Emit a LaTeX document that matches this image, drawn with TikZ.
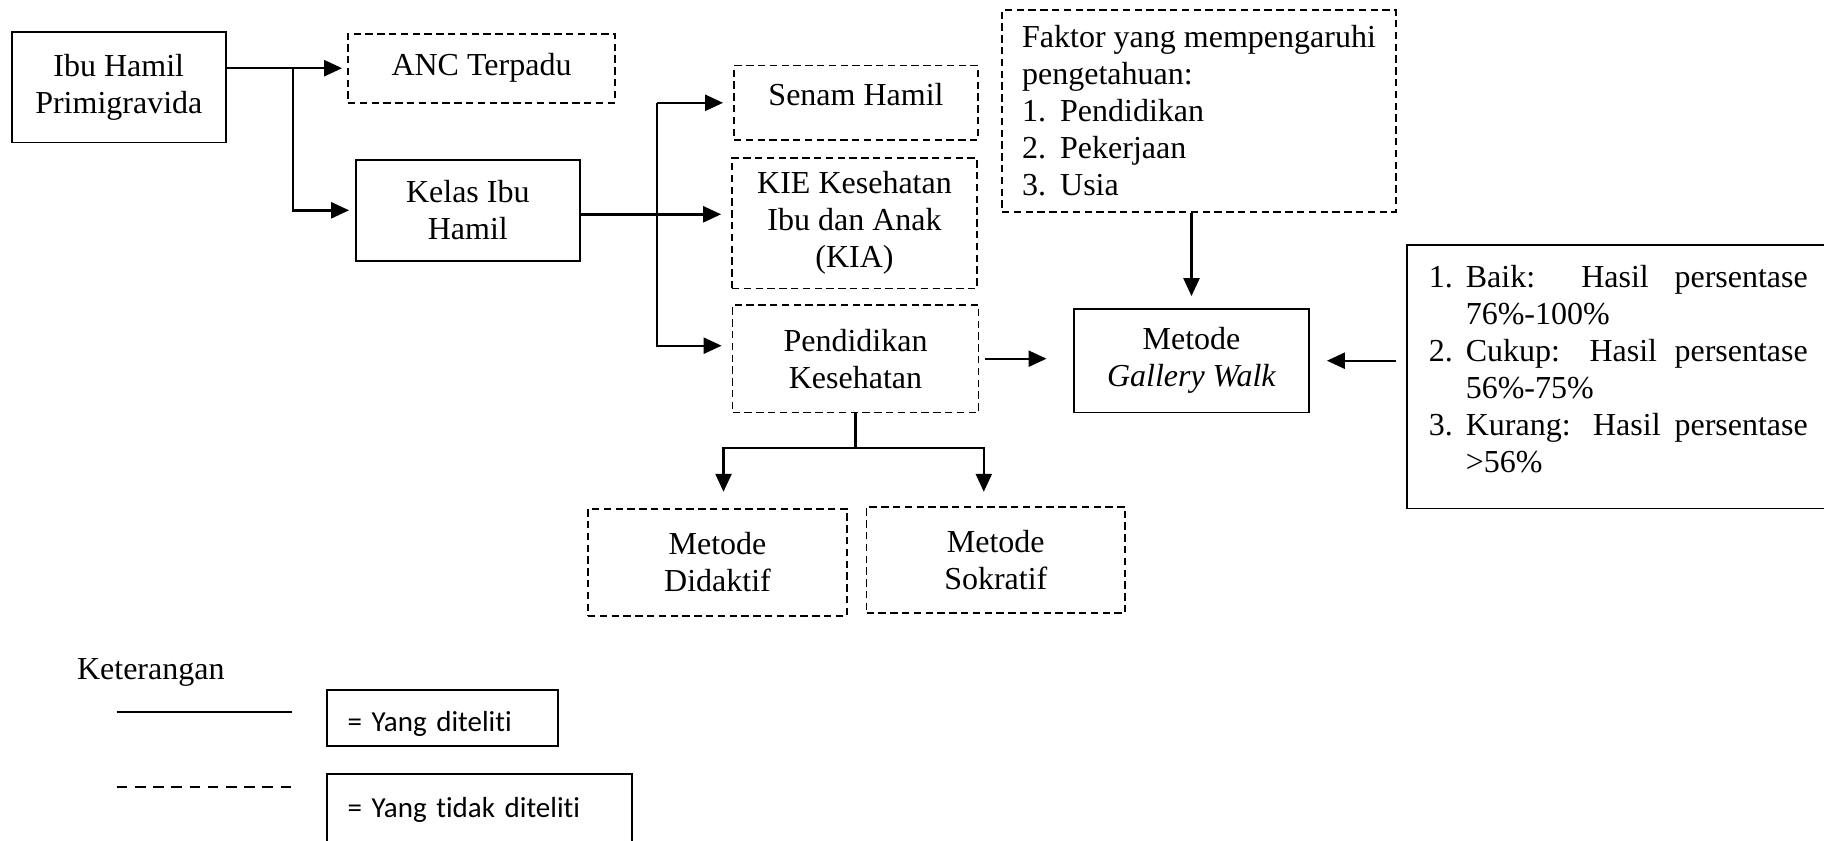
\documentclass[tikz,border=0pt]{standalone}
\usepackage{fontspec}
\setmainfont{Liberation Serif}
\newfontfamily\calibri{Carlito}[Ligatures=NoCommon]
\usetikzlibrary{positioning,calc,arrows.meta}

\begin{document}
\begin{tikzpicture}[x=0.5pt,y=-0.5pt,
		font=\fontsize{16}{18.5}\selectfont,
		box/.style={draw,line width=0.9pt,align=center,inner sep=0pt},
		dbox/.style={box,dash pattern=on 3.7pt off 2.2pt},
		arr/.style={line width=1.2pt,-{Triangle[length=9pt,width=8pt]}},
		legbox/.style={draw,line width=0.9pt,anchor=north west,align=left,inner xsep=10.35pt,inner ysep=0pt,font=\calibri\fontsize{14.5}{17}\selectfont}]
		\useasboundingbox (0,0) rectangle (1824,840);
		% boxes
		\node[box,minimum width=107.2pt,minimum height=55.3pt] (ibu) at (118.8,87.2) {Ibu Hamil\\Primigravida};
		\node[dbox,minimum width=133.5pt,minimum height=34.5pt] (anc) at (481.5,68.2) {ANC Terpadu};
		\node[box,minimum width=111.8pt,minimum height=50.7pt] (kelas) at (467.8,210.3) {Kelas Ibu\\Hamil};
		\node[dbox,minimum width=122pt,minimum height=37.2pt,text depth=8pt] (senam) at (856,102.8) {Senam Hamil};
		\node[dbox,minimum width=122.5pt,minimum height=65.2pt] (kie) at (854.5,223.2) {KIE Kesehatan\\Ibu dan Anak\\(KIA)};
		\node[dbox,minimum width=123pt,minimum height=53.7pt] (pend) at (855.5,358.7) {Pendidikan\\Kesehatan};
		\node[dbox,minimum width=197pt,minimum height=100.8pt,align=left] (faktor) at (1199,110.8)
			{Faktor yang mempengaruhi\\pengetahuan:\\\makebox[19pt][l]{1.}Pendidikan\\\makebox[19pt][l]{2.}Pekerjaan\\\makebox[19pt][l]{3.}Usia};
		\node[box,minimum width=117.5pt,minimum height=51.7pt] (gw) at (1191.5,360.7) {Metode\\\textit{Gallery Walk}};
		\node[box,minimum height=131.7pt,text width=189.5pt,align=justify,inner xsep=11.1pt] (hasil) at (1618.3,376.7)
			{\parindent=0pt
			\hangindent=18.5pt\hangafter=1 \makebox[18.5pt][l]{1.}Baik: Hasil persentase\linebreak 76\%-100\%\par
			\hangindent=18.5pt\hangafter=1 \makebox[18.5pt][l]{2.}Cukup: Hasil persentase\linebreak 56\%-75\%\par
			\hangindent=18.5pt\hangafter=1 \makebox[18.5pt][l]{3.}Kurang: Hasil persentase\linebreak >56\%\par
			\nointerlineskip\hbox{\rule{0pt}{8pt}}};
		\node[dbox,minimum width=129.5pt,minimum height=53.5pt] (did) at (717.5,562.2) {Metode\\Didaktif};
		\node[dbox,minimum width=129.3pt,minimum height=53.3pt] (sok) at (995.8,560) {Metode\\Sokratif};

		% arrows
		\draw[arr,shorten >=2.5pt] (ibu.east |- anc.west) -- (anc.west);
		\coordinate (fork) at ($(ibu.east |- anc.west)+(66,0)$);
		\draw[arr,shorten >=3pt] (fork) |- (kelas.west);
		\coordinate (bus) at (657,0);
		\draw[arr,shorten >=5pt] ([yshift=-2pt]kelas.east) -- ([yshift=-2pt]kie.west |- kelas.east);
		\draw[arr,shorten >=5pt] (bus |- senam.west) -- (senam.west);
		\coordinate (pendin) at ([yshift=6.5pt]pend.west);
		\draw[arr,shorten >=5pt] (bus |- senam.west) |- (pendin);
		\draw[arr,shorten <=2.7pt,shorten >=13.3pt] (pend.east) -- (pend.east -| gw.west);
		\draw[arr,shorten <=5pt,shorten >=8.5pt] (hasil.west |- gw.east) -- (gw.east);
		\draw[arr,shorten >=6pt] (gw.north |- faktor.south) -- (gw.north);
		\draw[line width=1.2pt] (pend.south) -- ++(0,34.4) coordinate (split);
		\draw[arr,shorten >=8pt] (split) -| ([xshift=3pt]did.north);
		\draw[arr,shorten >=7pt] (split) -| ([xshift=-6pt]sok.north);

		% keterangan
		\node[anchor=base west] (ket) at (70,679) {Keterangan};
		\draw[line width=1.2pt] (116.7,711.7) -- (292.3,711.7);
		\draw[line width=1.2pt,dash pattern=on 5.3pt off 3.8pt] (116.7,786.7) -- (292.3,786.7);
		\node[legbox,text width=94.65pt,text height=20.7pt,text depth=7.15pt] (diteliti) at (326,689.3) {= Yang diteliti};
		\node[legbox,text width=131.7pt,text height=21.7pt,text depth=16.7pt] (tdkditeliti) at (326,773.3) {= Yang tidak diteliti};
	\end{tikzpicture}
\end{document}
